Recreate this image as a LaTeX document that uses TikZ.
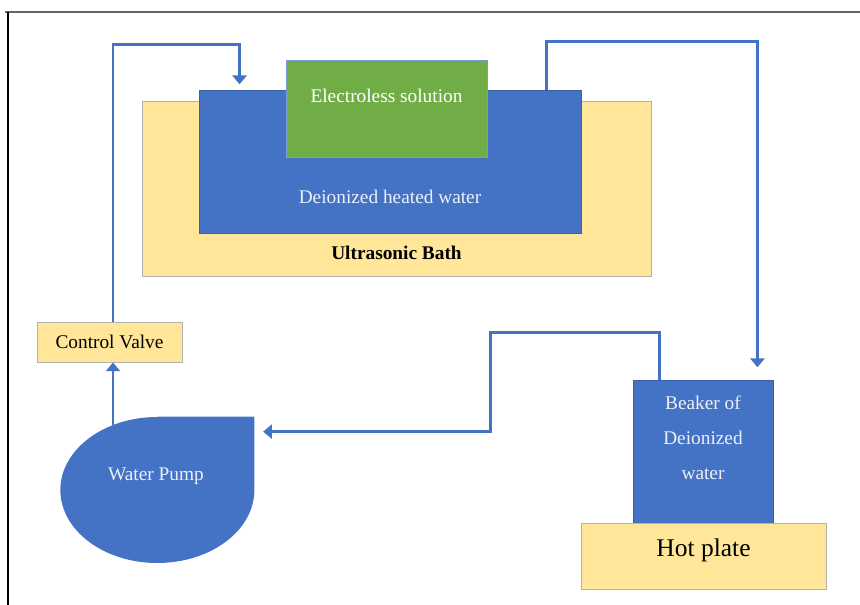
\documentclass[tikz,border=0pt]{standalone}
\usepackage{fontspec}
\setmainfont{Liberation Serif}
\usetikzlibrary{arrows.meta,positioning}
\definecolor{pipeblue}{HTML}{4472C4}
\definecolor{boxgreen}{HTML}{70AD47}
\definecolor{boxyellow}{HTML}{FFE699}

\begin{document}
\begin{tikzpicture}[
    yellowbox/.style={rectangle, fill=boxyellow, draw=gray!60, line width=0.5pt, inner sep=0pt},
    bluebox/.style={rectangle, fill=pipeblue, draw=pipeblue!85!black, line width=0.5pt, inner sep=0pt},
    greenbox/.style={rectangle, fill=boxgreen, draw=pipeblue!70, line width=0.5pt, inner sep=0pt},
    lbl/.style={font=\fontsize{11}{13}\selectfont, inner sep=0pt},
    flow/.style={draw=pipeblue, line width=1.5pt, -{Triangle[length=5pt,width=8pt]}}
  ]
  \useasboundingbox (0,0) rectangle (17.2,12.1);
  % page frame
  \draw[gray!80!black, line width=0.8pt] (0.1,11.86) -- (17.2,11.86);
  \draw[black, line width=0.8pt] (0.16,11.86) -- (0.16,0);

  % bath with water and solution
  \node[yellowbox, minimum width=10.18cm, minimum height=3.5cm] (bath) at (7.93,8.33) {};
  \node[bluebox, minimum width=7.64cm, minimum height=2.86cm] (water) at (7.80,8.87) {};
  \node[greenbox, minimum width=4.02cm, minimum height=1.94cm] (sol) at (7.73,9.93) {};
  \node[lbl, text=white] (soltext) at ([yshift=-0.72cm]sol.north) {Electroless solution};
  \node[lbl, text=white!90!pipeblue] (watertext) at ([yshift=0.74cm]water.south) {Deionized heated water};
  \node[lbl, font=\fontsize{11}{13}\selectfont\bfseries] (bathtext) at ([yshift=0.48cm]bath.south) {Ultrasonic Bath};

  % valve and pump
  \node[yellowbox, lbl, minimum width=2.9cm, minimum height=0.8cm] (valve) at (2.19,5.26) {Control Valve};
  \node[minimum width=3.88cm, minimum height=2.92cm, inner sep=0pt] (pump) at (3.14,2.30) {};
  \coordinate (pumpout) at ([xshift=-0.88cm,yshift=-0.16cm]pump.north);

  % beaker on hot plate
  \node[bluebox, minimum width=2.8cm, minimum height=2.86cm] (beaker) at (14.06,3.07) {};
  \node[lbl, text=white!90!pipeblue, align=center, font=\fontsize{11}{20}\selectfont] (beakertext) at ([yshift=-1.16cm]beaker.north) {Beaker of\\Deionized\\water};
  \node[yellowbox, minimum width=4.9cm, minimum height=1.32cm] (plate) at (14.07,0.98) {};
  \node[lbl, font=\fontsize{14.5}{17}\selectfont] (platetext) at ([yshift=0.12cm]plate.center) {Hot plate};

  % flow lines
  \draw[flow] (pumpout) -- (pumpout |- valve.south);
  \draw[flow, shorten >=3pt] (pumpout |- valve.north) -- ++(0,5.54) -| ([xshift=0.82cm]water.north west);
  \draw[flow, shorten >=7pt] ([xshift=6.96cm]water.north west) -- ++(0,0.96) -| ([xshift=-0.32cm]beaker.north east);
  \draw[flow, shorten >=5pt] ([xshift=0.54cm]beaker.north west) -- ++(0,0.94) -- ++(-3.38,0) |- ([yshift=-0.30cm]pump.north east);

  \fill[pipeblue] (pump.north) -- (pump.north east) -- (pump.east) arc[start angle=0, end angle=-270, x radius=1.94cm, y radius=1.46cm] -- cycle;
  \node[lbl, text=white!90!pipeblue] (pumptext) at (3.12,2.58) {Water Pump};
\end{tikzpicture}
\end{document}
